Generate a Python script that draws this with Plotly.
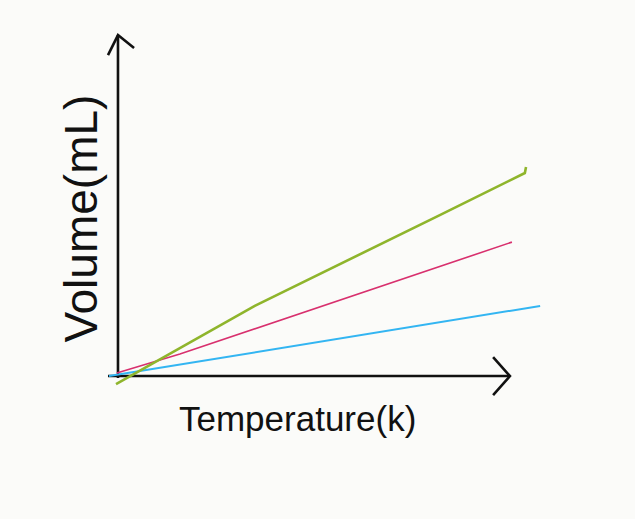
import plotly.graph_objects as go

# Hand-sketched chart: Volume (mL) vs Temperature (K), arbitrary units (axis length = 100)
green_T = [-0.5, 20.9, 34.9, 82.1, 103.8, 104.1]
green_V = [-2.4, 11.7, 21.0, 48.2, 60.8, 62.6]

pink_T = [-0.3, 15.8, 100.5]
pink_V = [0.9, 6.6, 40.1]

blue_T = [-2.3, 107.7]
blue_V = [0.0, 21.0]

# axes (drawn as arrows)
yaxis_T = [0.0, 0.0]
yaxis_V = [-0.6, 102.1]
yhead_T = [-2.55, 0.0, 4.1]
yhead_V = [96.1, 102.1, 98.2]
xaxis_T = [-2.55, 100.0]
xaxis_V = [0.0, 0.0]
xhead_T = [95.7, 100.0, 95.7]
xhead_V = [5.7, 0.0, -5.7]

x_label = "Temperature(k)"
y_label = "Volume(mL)"

fig = go.Figure()
ink = "#111111"
for xs, ys in [(yaxis_T, yaxis_V), (yhead_T, yhead_V), (xaxis_T, xaxis_V), (xhead_T, xhead_V)]:
    fig.add_trace(go.Scatter(x=xs, y=ys, mode="lines", line=dict(color=ink, width=2.6),
                             hoverinfo="skip", showlegend=False))

fig.add_trace(go.Scatter(x=blue_T, y=blue_V, mode="lines", line=dict(color="#33b5f2", width=2),
                         showlegend=False))
fig.add_trace(go.Scatter(x=pink_T, y=pink_V, mode="lines", line=dict(color="#d8306e", width=1.6),
                         showlegend=False))
fig.add_trace(go.Scatter(x=green_T, y=green_V, mode="lines", line=dict(color="#8fb52c", width=2.6),
                         showlegend=False))

fig.add_annotation(x=45.7, y=-12.6, xref="x", yref="y", text=x_label, showarrow=False,
                   font=dict(family="Liberation Sans, DejaVu Sans", size=35, color=ink))
fig.add_annotation(x=-9.3, y=47.0, xref="x", yref="y", text=y_label, showarrow=False,
                   textangle=-90,
                   font=dict(family="Liberation Sans, DejaVu Sans", size=46, color=ink))

fig.update_layout(
    width=635, height=519,
    margin=dict(l=0, r=0, t=0, b=0),
    paper_bgcolor="#fbfbf9", plot_bgcolor="#fbfbf9",
    xaxis=dict(range=[-30.1, 131.9], visible=False, fixedrange=True),
    yaxis=dict(range=[-42.8, 112.6], visible=False, fixedrange=True),
)

fig.write_html(
    "out.html",
    config={"displayModeBar": False},
    post_script="document.body.style.margin='0';document.body.style.background='#fbfbf9';",
)
